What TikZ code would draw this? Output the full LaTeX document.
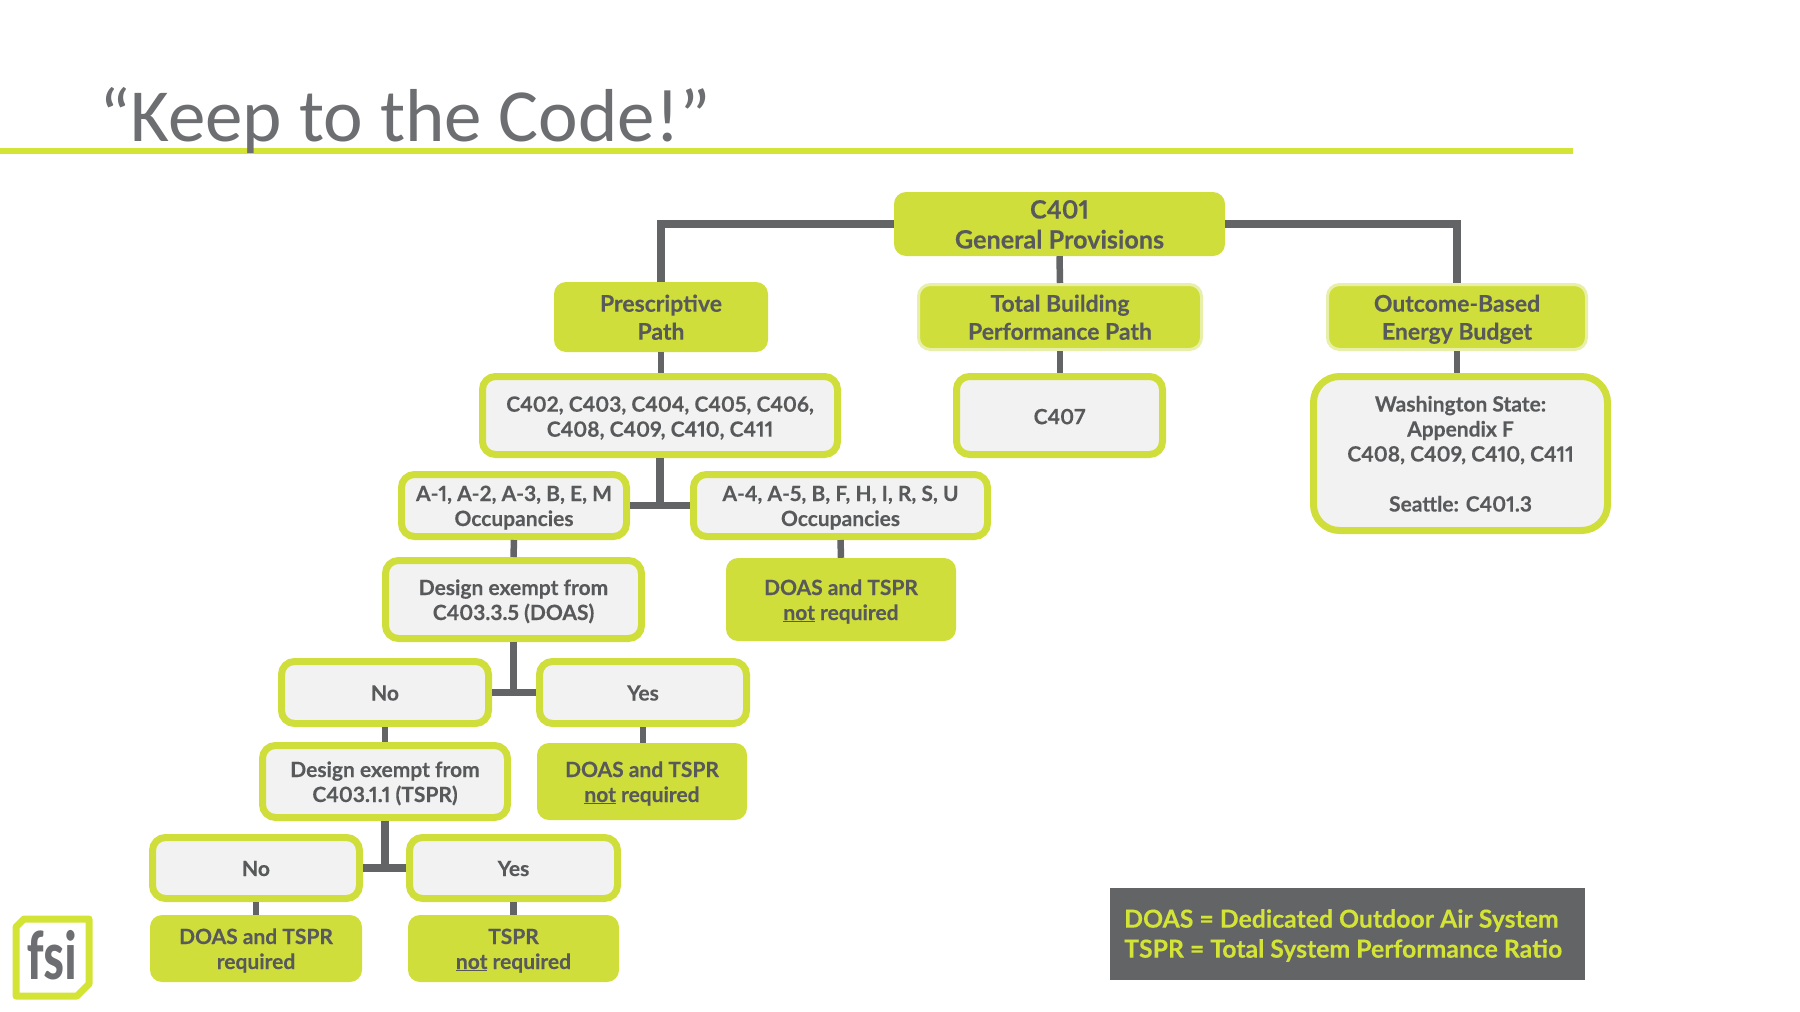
\documentclass[tikz,border=0pt]{standalone}
\usepackage{fontspec}
\setmainfont{Lato}[BoldFont=Lato Bold,BoldFeatures={FakeBold=0.25},Numbers=Proportional]
\newfontfamily\titlefont{Carlito}
\newcommand\ta{\rule{0pt}{22pt}}
\newcommand\tc{\rule{0pt}{23.4pt}}
\newcommand\td{\rule{0pt}{25pt}}
\newcommand\tb{\rule[-6pt]{0pt}{6pt}}
\definecolor{lime}{HTML}{D0DE3B}
\definecolor{limeline}{HTML}{D3E436}
\definecolor{limepale}{HTML}{E8EFA8}
\definecolor{boxfill}{HTML}{F2F2F2}
\definecolor{ink}{HTML}{58595B}
\definecolor{wire}{HTML}{636466}
\definecolor{titlegrey}{HTML}{6D6E71}
\tikzset{
  fs/.style={font=\fontsize{#1}{25}\selectfont\bfseries},
  base/.style={align=center,text=ink,inner sep=0pt,rounded corners=12pt},
  gbox/.style={base,draw=lime,fill=boxfill,line width=7pt,fs=21,rounded corners=13pt},
  lbox/.style={base,fill=lime,fs=21},
  pbox/.style={base,fill=lime,draw=limepale,line width=3pt,fs=23},
  conn/.style={draw=wire,line width=7.5pt},
  thin conn/.style={draw=wire,line width=6.5pt},
}
\begin{document}
\begin{tikzpicture}[x=1pt,y=-1pt]
\useasboundingbox (0,0) rectangle (1800,1012);
\fill[white] (0,0) rectangle (1800,1012);
\fill[limeline] (0,147.5) rectangle (1573,154);
\node[anchor=base west,inner sep=0pt,text=titlegrey,font=\fontsize{75}{80}\selectfont\titlefont] (title) at (99,141) {“Keep to the Code!”};

\node[lbox,fs=25.2,minimum width=331pt,minimum height=64pt] (c401) at (1059.5,224) {\td C401\\[5pt]General Provisions\tb};
\node[lbox,fs=23,minimum width=214pt,minimum height=70pt] (pres) at (661,317) {\tc Prescriptive\\[3pt]Path\tb};
\node[pbox,minimum width=283pt,minimum height=65pt] (total) at (1060,317) {\tc Total Building\\[3pt]Performance Path\tb};
\node[pbox,minimum width=259pt,minimum height=65pt] (outc) at (1457,317) {\tc Outcome-Based\\[3pt]Energy Budget\tb};

\node[gbox,minimum width=355pt,minimum height=78pt] (c402) at (660,415.5) {\tc C402, C403, C404, C405, C406,\\C408, C409, C410, C411\tb};
\node[gbox,minimum width=206pt,minimum height=78pt] (c407) at (1059.5,415.5) {\tc C407\tb};
\node[gbox,rounded corners=26pt,minimum width=294pt,minimum height=154pt] (wash) at (1460.5,453.5) {\ta Washington State:\\Appendix F\\C408, C409, C410, C411\\[25pt]Seattle: C401.3\tb};

\node[gbox,minimum width=225pt,minimum height=62pt] (a1) at (514,505.5) {\ta A-1, A-2, A-3, B, E, M\\Occupancies\tb};
\node[gbox,minimum width=294pt,minimum height=62pt] (a4) at (840.5,505.5) {\ta A-4, A-5, B, F, H, I, R, S, U\\Occupancies\tb};
\node[gbox,minimum width=256pt,minimum height=78pt] (desd) at (513.5,599.5) {\ta Design exempt from\\C403.3.5 (DOAS)\tb};
\node[lbox,minimum width=230pt,minimum height=83pt] (nota) at (841,599.5) {\ta DOAS and TSPR\\\underline{not} required\tb};

\node[gbox,minimum width=207pt,minimum height=62pt] (no1) at (385,692.5) {\ta No\tb};
\node[gbox,minimum width=207pt,minimum height=62pt] (yes1) at (643,692.5) {\ta Yes\tb};
\node[gbox,minimum width=245pt,minimum height=72pt] (dest) at (385,781.5) {\ta Design exempt from\\C403.1.1 (TSPR)\tb};
\node[lbox,minimum width=210pt,minimum height=77pt] (notb) at (642,781.5) {\ta DOAS and TSPR\\\underline{not} required\tb};

\node[gbox,minimum width=207pt,minimum height=61pt] (no2) at (256,868) {\ta No\tb};
\node[gbox,minimum width=208pt,minimum height=61pt] (yes2) at (513.5,868) {\ta Yes\tb};
\node[lbox,minimum width=212pt,minimum height=67pt] (req) at (256,948.5) {\ta DOAS and TSPR\\required\tb};
\node[lbox,minimum width=211pt,minimum height=67pt] (tspr) at (513.5,948.5) {\ta TSPR\\\underline{not} required\tb};

\node[fill=wire,minimum width=475pt,minimum height=92pt,inner sep=0pt] (legend) at (1347.5,934) {};
\node[anchor=west,align=left,text=limeline,fs=24.8,inner sep=0pt] (legtext) at (1124,935.5) {DOAS = Dedicated Outdoor Air System\\[5pt]TSPR = Total System Performance Ratio};

% connectors
\draw[conn,line join=miter] (c401.west) -| (pres.north);
\draw[conn,line join=miter] (c401.east) -| (outc.north);
\draw[thin conn] (c401.south) -- (total.north);
\draw[thin conn] (pres.south) -- (c402.north -| pres.south);
\draw[thin conn] (total.south) -- (c407.north -| total.south);
\draw[thin conn] (outc.south) -- (wash.north -| outc.south);
\draw[conn] (c402.south) -- (c402.south |- a1.east);
\draw[conn] (a1.east) -- (a4.west);
\draw[thin conn] (a1.south) -- (desd.north);
\draw[thin conn] (a4.south) -- (nota.north);
\draw[conn] (desd.south) -- (desd.south |- no1.east);
\draw[conn] (no1.east) -- (yes1.west);
\draw[thin conn] (no1.south) -- (dest.north);
\draw[thin conn] (yes1.south) -- (notb.north -| yes1.south);
\draw[conn] (dest.south) -- (dest.south |- no2.east);
\draw[conn] (no2.east) -- (yes2.west);
\draw[thin conn] (no2.south) -- (req.north);
\draw[thin conn] (yes2.south) -- (tspr.north);

% logo
\draw[draw=limeline,fill=white,line width=7pt,line join=round]
  (24,919) -- (89,919) -- (89,984) -- (77,996) -- (16,996) -- (16,927) -- cycle;
\node[text=titlegrey,inner sep=0pt,xscale=0.75,font=\fontsize{70}{70}\selectfont\titlefont\bfseries] (fsi) at (52,955) {fsi};
\end{tikzpicture}
\end{document}
